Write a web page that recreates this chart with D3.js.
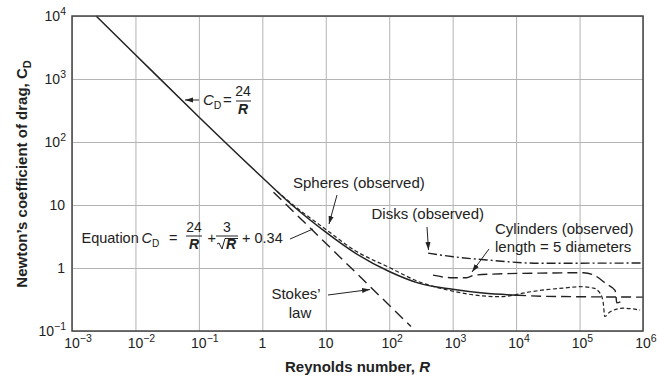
<!DOCTYPE html>
<html>
<head>
<meta charset="utf-8">
<script src="https://cdn.jsdelivr.net/npm/d3@7"></script>
<style>
  body { margin: 0; background: #fff; }
  text { font-family: "Liberation Sans", Arial, sans-serif; fill: #222; }
</style>
</head>
<body>
<script>
// tick values and labels (base + exponent)
var xTicks = [1e-3, 1e-2, 1e-1, 1, 10, 1e2, 1e3, 1e4, 1e5, 1e6];
var xTickBase = ["10", "10", "10", "1", "10", "10", "10", "10", "10", "10"];
var xTickExp = ["\u22123", "\u22122", "\u22121", "", "", "2", "3", "4", "5", "6"];
var yTicks = [1e-1, 1, 10, 1e2, 1e3, 1e4];
var yTickBase = ["10", "1", "10", "10", "10", "10"];
var yTickExp = ["\u22121", "", "", "2", "3", "4"];

// equation curve (solid)
var eqR = [0.0024, 0.01, 0.1, 1, 3, 10, 30, 100, 300, 1000, 3000, 10000];
var eqCD = [10000, 2430, 250, 27.3, 9.8, 3.7, 1.69, 0.88, 0.57, 0.46, 0.40, 0.37];
// equation continued beyond 10^4 (long dash)
var extR = [10000, 30000, 100000, 1000000];
var extCD = [0.37, 0.355, 0.35, 0.345];
// Stokes' law (long dash)
var stokesR = [1.5, 220];
var stokesCD = [16, 0.118];
// spheres observed (short dash)
var sphR = [1.7, 3, 10, 30, 100, 300, 1000, 3000, 6000, 10000, 17000, 55000, 100000, 165000, 210000, 235000, 250000, 300000, 490000, 900000];
var sphCD = [16.5, 10.2, 4.1, 1.85, 1.02, 0.6, 0.43, 0.36, 0.35, 0.38, 0.42, 0.48, 0.505, 0.48, 0.40, 0.29, 0.17, 0.20, 0.23, 0.215];
// disks observed (dash-dot)
var diskR = [410, 1020, 3450, 24000, 1000000];
var diskCD = [1.72, 1.51, 1.34, 1.19, 1.2];
// cylinders observed, length = 5 diameters (long dash)
var cylR = [490, 1000, 1650, 2200, 4300, 24000, 115000, 165000, 270000, 363000, 375000, 385000, 440000];
var cylCD = [0.77, 0.70, 0.70, 0.77, 0.80, 0.83, 0.84, 0.78, 0.55, 0.44, 0.36, 0.28, 0.29];

var W = 659, H = 377;
var margin = {top: 16, right: 16, bottom: 46, left: 72},
    width = W - margin.left - margin.right,
    height = H - margin.top - margin.bottom;

var svg = d3.select("body").append("svg")
    .attr("width", W)
    .attr("height", H);

var defs = svg.append("defs");
defs.append("marker")
    .attr("id", "arrow")
    .attr("viewBox", "-8 -4 9 8")
    .attr("markerWidth", 9)
    .attr("markerHeight", 8)
    .attr("refX", 0).attr("refY", 0)
    .attr("markerUnits", "userSpaceOnUse")
    .attr("orient", "auto")
  .append("path")
    .attr("d", "M0,0 L-8,-2.6 L-8,2.6 Z")
    .attr("fill", "#222");

var g = svg.append("g")
    .attr("transform", "translate(" + margin.left + "," + margin.top + ")");

var x = d3.scaleLog().domain([1e-3, 1e6]).range([0, width]);
var y = d3.scaleLog().domain([0.1, 1e4]).range([height, 0]);

// grid
g.append("g")
    .attr("class", "xgrid")
    .attr("transform", "translate(0," + height + ")")
    .call(d3.axisBottom(x).tickValues(xTicks).tickSize(-height).tickFormat(""))
    .call(function(s) { s.select(".domain").remove(); });
g.append("g")
    .attr("class", "ygrid")
    .call(d3.axisLeft(y).tickValues(yTicks).tickSize(-width).tickFormat(""))
    .call(function(s) { s.select(".domain").remove(); });
g.selectAll(".xgrid line, .ygrid line")
    .attr("stroke", "#b4b4b4")
    .attr("stroke-width", 1);

// tick labels
xTicks.forEach(function(v, i) {
  var t = g.append("text")
      .attr("y", height + 17)
      .style("font-size", "14px");
  if (xTickExp[i] === "") {
    t.attr("x", x(v)).attr("text-anchor", "middle").text(xTickBase[i]);
  } else {
    t.attr("x", x(v) - 7.8);
    t.append("tspan").text(xTickBase[i]);
    t.append("tspan").attr("dy", -6).style("font-size", "10.5px").text(xTickExp[i]);
  }
});
yTicks.forEach(function(v, i) {
  var t = g.append("text")
      .attr("y", y(v) + 5)
      .attr("text-anchor", "end")
      .style("font-size", "14px");
  if (yTickExp[i] === "") {
    t.attr("x", -7).text(yTickBase[i]);
  } else {
    t.attr("x", -6);
    t.append("tspan").text(yTickBase[i]);
    t.append("tspan").attr("dy", -6).style("font-size", "10.5px").text(yTickExp[i]);
  }
});

// curves
var line = d3.line()
    .x(function(d) { return x(d[0]); })
    .y(function(d) { return y(d[1]); })
    .curve(d3.curveMonotoneX);

function series(rs, cds) { return rs.map(function(r, i) { return [r, cds[i]]; }); }

function drawCurve(data, dash, w) {
  g.append("path")
      .datum(data)
      .attr("d", line)
      .attr("fill", "none")
      .attr("stroke", "#222")
      .attr("stroke-width", w || 1.4)
      .attr("stroke-dasharray", dash);
}

drawCurve(series(stokesR, stokesCD), "11,6");
drawCurve(series(extR, extCD), "10,5");
drawCurve(series(cylR, cylCD), "10,5");
drawCurve(series(diskR, diskCD), "9,3,2,3");
drawCurve(series(sphR, sphCD), "4,2.5", 1.2);
drawCurve(series(eqR, eqCD), null, 1.5);

// frame
g.append("rect")
    .attr("width", width)
    .attr("height", height)
    .attr("fill", "none")
    .attr("stroke", "#444")
    .attr("stroke-width", 1.5);

// annotations (pixel layout)
var ann = svg.append("g");

function arrow(x1, y1, x2, y2) {
  ann.append("line")
      .attr("x1", x1).attr("y1", y1).attr("x2", x2).attr("y2", y2)
      .attr("stroke", "#222").attr("stroke-width", 1)
      .attr("marker-end", "url(#arrow)");
}
function label(txt, xx, yy, anchor, size) {
  return ann.append("text")
      .attr("x", xx).attr("y", yy)
      .attr("text-anchor", anchor || "start")
      .style("font-size", (size || 15) + "px")
      .text(txt);
}
function cd(xx, yy, size, eqX) {
  var t = ann.append("text").attr("x", xx).attr("y", yy).style("font-size", size + "px");
  t.append("tspan").style("font-style", "italic").text("C");
  t.append("tspan").attr("dy", 4).style("font-size", (size * 0.7) + "px").text("D");
  label("=", eqX, yy, "start", size);
}
function frac(cx, top, num, bold, rad, x1, x2, barY) {
  ann.append("text").attr("x", cx).attr("y", top)
      .attr("text-anchor", "middle").style("font-size", "14px").text(num);
  ann.append("line").attr("x1", x1).attr("x2", x2).attr("y1", barY).attr("y2", barY)
      .attr("stroke", "#222").attr("stroke-width", 1);
  ann.append("text").attr("x", cx + (rad ? 4 : 0)).attr("y", barY + 13)
      .attr("text-anchor", "middle").style("font-size", "14px")
      .style("font-weight", "bold").style("font-style", "italic").text(bold);
  if (rad) {
    ann.append("path")
        .attr("d", "M" + (x1 + 1) + "," + (barY + 8) + " L" + (x1 + 3) + "," + (barY + 7) +
                   " L" + (x1 + 6) + "," + (barY + 13) + " L" + (x1 + 9) + "," + (barY + 2.5) +
                   " L" + (x2) + "," + (barY + 2.5))
        .attr("fill", "none").attr("stroke", "#222").attr("stroke-width", 1);
  }
}

// C_D = 24/R
arrow(199, 100, 185, 100);
cd(203, 105, 15, 223);
frac(243, 96, "24", "R", false, 236, 251, 101);

// Equation
label("Equation", 81.5, 243, "start", 14.5);
cd(141.5, 243, 14.5, 169);
frac(194, 232, "24", "R", false, 186, 202, 236);
label("+", 207.5, 243, "start", 14.5);
frac(227, 232, "3", "R", true, 216, 238, 236);
label("+ 0.34", 242, 243, "start", 14.5);
ann.append("line").attr("x1", 290).attr("y1", 239).attr("x2", 313).attr("y2", 229)
    .attr("stroke", "#222").attr("stroke-width", 1);

// Spheres
label("Spheres (observed)", 293, 188);
arrow(337, 195, 329, 224);

// Disks
label("Disks (observed)", 371.5, 218.5);
arrow(427, 227, 428.5, 250);

// Cylinders
label("Cylinders (observed)", 495, 233.5);
label("length = 5 diameters", 495, 251.5);
arrow(489, 249, 472, 272);

// Stokes' law
label("Stokes\u2019", 296, 298.5, "middle");
label("law", 300, 317.5, "middle");
arrow(328, 295, 370, 289.5);

// axis titles
svg.append("text")
    .attr("x", margin.left + width / 2)
    .attr("y", 372)
    .attr("text-anchor", "middle")
    .style("font-size", "15px")
    .style("font-weight", "bold")
    .call(function(t) {
      t.append("tspan").text("Reynolds number, ");
      t.append("tspan").style("font-style", "italic").text("R");
    });

svg.append("text")
    .attr("transform", "translate(27,174) rotate(-90)")
    .attr("text-anchor", "middle")
    .style("font-size", "15px")
    .style("font-weight", "bold")
    .call(function(t) {
      t.append("tspan").text("Newton\u2019s coefficient of drag, C");
      t.append("tspan").attr("dy", 4).style("font-size", "11px").text("D");
    });
</script>
</body>
</html>
